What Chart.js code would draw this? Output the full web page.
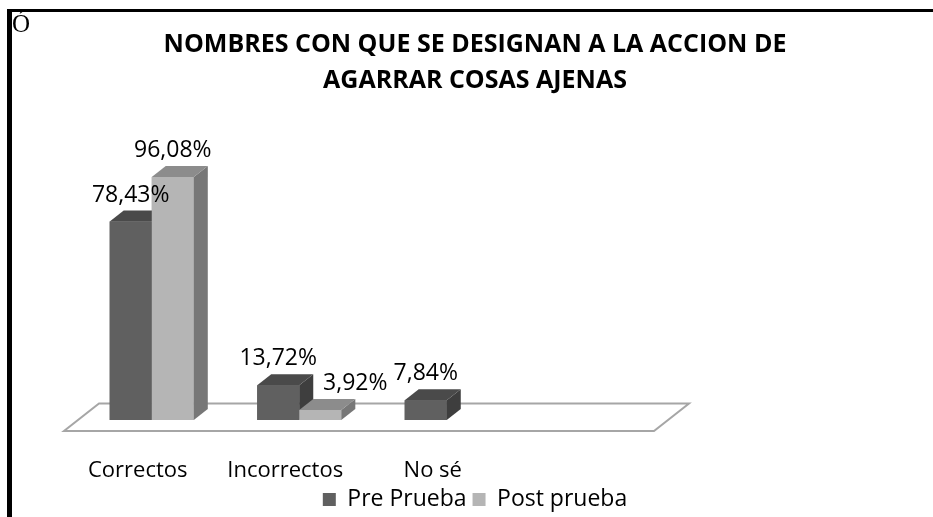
<!DOCTYPE html>
<html>
<head>
<meta charset="utf-8">
<script src="https://cdn.jsdelivr.net/npm/chart.js@4.4.1/dist/chart.umd.min.js"></script>
<style>
    html, body { margin: 0; padding: 0; background: #fff; }
</style>
</head>
<body>
<canvas id="chart" width="933" height="517"></canvas>
<script>
const categories = ['Correctos', 'Incorrectos', 'No sé', ''];
const prePrueba = [78.43, 13.72, 7.84, null];
const postPrueba = [96.08, 3.92, null, null];
const seriesNames = ['Pre Prueba', 'Post prueba'];
const titleLines = ['NOMBRES CON QUE SE DESIGNAN A LA ACCION DE', 'AGARRAR COSAS AJENAS'];

// 3D look
const DX = 14, DY = -11;
const shades = [
    { front: '#606060', top: '#4a4a4a', side: '#3e3e3e' },
    { front: '#b5b5b5', top: '#8c8c8c', side: '#777777' }
];
// the 3,92% label sits a bit to the right in the original
const labelNudge = { '1-1': 35 };

function fmt(v) {
    return v.toFixed(2).replace('.', ',') + '%';
}

function poly(ctx, pts, color) {
    ctx.beginPath();
    ctx.moveTo(pts[0][0], pts[0][1]);
    for (let i = 1; i < pts.length; i++) ctx.lineTo(pts[i][0], pts[i][1]);
    ctx.closePath();
    ctx.fillStyle = color;
    ctx.fill();
}

const frame3d = {
    id: 'frame3d',
    beforeDraw(chart) {
        const ctx = chart.ctx;
        ctx.save();
        ctx.fillStyle = '#fff';
        ctx.fillRect(0, 0, chart.width, chart.height);
        ctx.fillStyle = '#000';
        ctx.font = '25px "Liberation Serif"';
        ctx.textBaseline = 'alphabetic';
        ctx.fillText('Ó', 12, 32);
        ctx.fillRect(7, 9, chart.width - 7, 3);
        ctx.fillRect(7, 9, 5, chart.height - 9);
        ctx.restore();
    },
    beforeDatasetsDraw(chart) {
        const ctx = chart.ctx;
        const x = chart.scales.x, y = chart.scales.y;
        const base = y.getPixelForValue(0);
        const fl = x.left - DX, fr = x.right - DX, fy = base - DY;
        const bl = x.left + 1.5 * DX, br = x.right + 1.5 * DX, by = base + 1.5 * DY;
        ctx.save();
        ctx.beginPath();
        ctx.moveTo(fl, fy);
        ctx.lineTo(fr, fy);
        ctx.lineTo(br, by);
        ctx.lineTo(bl, by);
        ctx.closePath();
        ctx.fillStyle = '#fff';
        ctx.fill();
        ctx.strokeStyle = '#a6a6a6';
        ctx.lineWidth = 2;
        ctx.stroke();
        ctx.restore();
    },
    afterDatasetsDraw(chart) {
        const ctx = chart.ctx;
        const n = chart.data.labels.length;
        ctx.save();
        for (let i = 0; i < n; i++) {
            chart.data.datasets.forEach((ds, d) => {
                if (ds.data[i] == null) return;
                const bar = chart.getDatasetMeta(d).data[i];
                const p = bar.getProps(['x', 'y', 'base', 'width'], true);
                const x1 = p.x - p.width / 2, x2 = p.x + p.width / 2;
                const s = shades[d];
                poly(ctx, [[x1, p.y], [x2, p.y], [x2, p.base], [x1, p.base]], s.front);
                poly(ctx, [[x2, p.y], [x2 + DX, p.y + DY], [x2 + DX, p.base + DY], [x2, p.base]], s.side);
                poly(ctx, [[x1, p.y], [x1 + DX, p.y + DY], [x2 + DX, p.y + DY], [x2, p.y]], s.top);
            });
        }
        ctx.fillStyle = '#000';
        ctx.font = '23px "Open Sans"';
        ctx.textAlign = 'center';
        ctx.textBaseline = 'alphabetic';
        chart.data.datasets.forEach((ds, d) => {
            chart.getDatasetMeta(d).data.forEach((bar, i) => {
                const v = ds.data[i];
                if (v == null) return;
                const p = bar.getProps(['x', 'y'], true);
                ctx.fillText(fmt(v), p.x + (labelNudge[i + '-' + d] || 0), p.y - 20);
            });
        });
        ctx.restore();
    }
};

new Chart(document.getElementById('chart'), {
    type: 'bar',
    data: {
        labels: categories,
        datasets: [
            { label: seriesNames[0], data: prePrueba, backgroundColor: shades[0].front, borderWidth: 0 },
            { label: seriesNames[1], data: postPrueba, backgroundColor: shades[1].front, borderWidth: 0 }
        ]
    },
    options: {
        responsive: false,
        animation: false,
        layout: { padding: { left: 17, right: 0, top: 0, bottom: 0 } },
        datasets: {
            bar: { categoryPercentage: 0.57, barPercentage: 1 }
        },
        scales: {
            x: {
                grid: { display: false, drawTicks: false },
                border: { display: false },
                ticks: {
                    color: '#000',
                    font: { family: 'Open Sans', size: 22, lineHeight: '20px' },
                    padding: 41,
                    labelOffset: -DX,
                    maxRotation: 0,
                    autoSkip: false
                },
                afterFit: (s) => { s.height = 62; }
            },
            y: {
                min: 0,
                max: 100,
                grid: { display: false, drawTicks: false },
                border: { display: false },
                ticks: { display: false },
                afterFit: (s) => { s.width = 61; }
            },
            yRight: {
                type: 'linear',
                position: 'right',
                grid: { display: false, drawTicks: false },
                border: { display: false },
                ticks: { display: false },
                afterFit: (s) => { s.width = 265; }
            }
        },
        plugins: {
            title: {
                display: true,
                text: titleLines,
                color: '#000',
                font: { family: 'Open Sans', size: 25, weight: 'bold', lineHeight: 1.44 },
                padding: { top: 27, bottom: 68 }
            },
            legend: {
                position: 'bottom',
                maxHeight: 35,
                labels: {
                    color: '#000',
                    font: { family: 'Open Sans', size: 23 },
                    boxWidth: 13,
                    boxHeight: 13,
                    padding: 6
                }
            },
            tooltip: { enabled: false }
        }
    },
    plugins: [frame3d]
});
</script>
</body>
</html>
